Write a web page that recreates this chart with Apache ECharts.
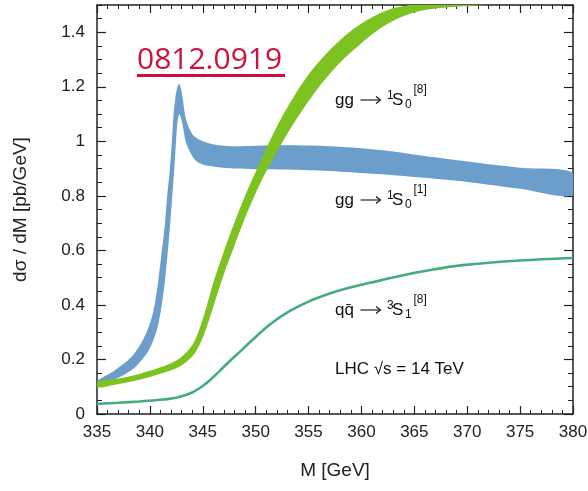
<!DOCTYPE html>
<html>
<head>
<meta charset="utf-8">
<script src="https://cdn.jsdelivr.net/npm/echarts@6/dist/echarts.min.js"></script>
<style>html,body{margin:0;padding:0;background:#fff;}#c{width:588px;height:491px;}</style>
</head>
<body>
<div id="c"></div>
<script>
// ---- data ----
const xTicks = [335, 340, 345, 350, 355, 360, 365, 370, 375, 380];
const yTicks = [0, 0.2, 0.4, 0.6, 0.8, 1, 1.2, 1.4];

// gg -> 1S0[1] band (blue): upper and lower edges [M, dsigma/dM]
const singletUpper = [[335,0.121],[336.6,0.158],[338.2,0.207],[339.1,0.255],[339.7,0.302],[340.2,0.357],[340.5,0.412],[340.8,0.492],[341.1,0.59],[341.4,0.687],[341.6,0.785],[341.85,0.883],[342.05,0.981],[342.2,1.079],[342.4,1.158],[342.6,1.199],[342.75,1.21],[342.9,1.2],[343.1,1.158],[343.3,1.103],[343.5,1.07],[344.05,1.024],[345.05,0.999],[346.3,0.987],[348.2,0.982],[350,0.984],[353,0.986],[356,0.984],[360,0.975],[363,0.963],[366,0.946],[370,0.926],[375,0.903],[380,0.885]];
const singletLower = [[335,0.104],[336.9,0.131],[338.5,0.168],[339.6,0.216],[340.2,0.259],[340.7,0.314],[341.05,0.382],[341.36,0.467],[341.62,0.565],[341.87,0.675],[342.09,0.785],[342.28,0.883],[342.44,0.981],[342.6,1.067],[342.78,1.1],[342.95,1.085],[343.16,1.045],[343.38,1.0],[343.63,0.975],[344.26,0.932],[345.05,0.914],[346.3,0.906],[348,0.9],[350,0.898],[353,0.897],[356,0.893],[360,0.884],[363,0.876],[366,0.866],[370,0.851],[375,0.826],[380,0.801]];

// gg -> 1S0[8] band (green)
const octetUpper = [[335,0.118],[337,0.13],[339,0.147],[341,0.171],[342.5,0.196],[343.5,0.228],[344.2,0.266],[344.8,0.325],[345.4,0.4],[346,0.482],[346.8,0.575],[347.6,0.662],[348.5,0.753],[349.5,0.845],[350.5,0.93],[351.5,1.015],[353,1.125],[355,1.245],[357,1.335],[359,1.405],[361,1.455],[363,1.488],[365.5,1.505],[368,1.52],[372,1.54],[376,1.555],[380,1.565]];
const octetLower = [[335,0.097],[337,0.11],[339,0.126],[341,0.148],[342.5,0.168],[343.5,0.193],[344.3,0.226],[345,0.28],[345.7,0.358],[346.4,0.443],[347.2,0.535],[348,0.618],[349,0.72],[350,0.81],[351,0.89],[352.5,0.995],[354,1.09],[356,1.2],[358,1.29],[360,1.36],[362,1.42],[364,1.46],[366,1.482],[370,1.496],[374,1.503],[377,1.51],[380,1.515]];

// q qbar -> 3S1[8] (teal line)
const qqbarLine = [[335,0.037],[337,0.041],[339,0.046],[341,0.052],[342.2,0.058],[343.1,0.066],[344,0.079],[344.8,0.097],[345.7,0.125],[346.6,0.158],[347.6,0.196],[348.5,0.228],[349.5,0.265],[351.4,0.33],[353.2,0.377],[355.1,0.414],[357,0.442],[358.9,0.464],[360.8,0.481],[363.5,0.505],[366.5,0.528],[369.6,0.546],[375,0.563],[380,0.572]];

// ---- styles ----
const FONT = '"Liberation Sans", Arial, sans-serif';
const AX = '#222';
const BLUE = '#6b9ecb';
const GREEN = '#7cc220';
const TEAL = '#45ad7d';

const chart = echarts.init(document.getElementById('c'), null, {renderer: 'canvas'});

function bandSeries(upper, lower, color) {
  return {
    type: 'custom',
    coordinateSystem: 'cartesian2d',
    xAxisIndex: 0, yAxisIndex: 0,
    clip: true,
    silent: true,
    data: [[upper[0][0], upper[0][1]]],
    renderItem: function (params, api) {
      const pts = upper.map(p => api.coord(p)).concat(lower.slice().reverse().map(p => api.coord(p)));
      return {type: 'polygon', shape: {points: pts, smooth: 0.3}, style: {fill: color, stroke: null}};
    }
  };
}

function xAx(pos) {
  return {
    type: 'value', position: pos, min: 335, max: 380, interval: 5,
    axisLine: {show: true, onZero: false, lineStyle: {color: AX, width: 1.5}},
    axisTick: {show: true, inside: true, length: 8, lineStyle: {color: AX, width: 1.2}},
    minorTick: {show: true, splitNumber: 5, length: 4, lineStyle: {color: AX, width: 1}},
    splitLine: {show: false}, minorSplitLine: {show: false},
    axisLabel: pos === 'bottom' ? {show: true, color: AX, fontSize: 17, fontFamily: FONT, margin: 10,
      formatter: v => xTicks.indexOf(v) >= 0 ? String(v) : ''} : {show: false},
    name: pos === 'bottom' ? 'M [GeV]' : '',
    nameLocation: 'middle', nameGap: 47,
    nameTextStyle: {color: AX, fontSize: 19, fontFamily: FONT}
  };
}
function yAx(pos, major) {
  return {
    type: 'value', position: pos, min: 0, max: 1.5, interval: major ? 0.2 : 0.05,
    axisLine: {show: major, onZero: false, lineStyle: {color: AX, width: 1.5}},
    axisTick: {show: true, inside: true, length: major ? 9 : 5, lineStyle: {color: AX, width: major ? 1.2 : 1}},
    splitLine: {show: false},
    axisLabel: (pos === 'left' && major) ? {show: true, color: AX, fontSize: 17, fontFamily: FONT, margin: 12,
      showMaxLabel: false,
      formatter: v => { const i = yTicks.findIndex(t => Math.abs(t - v) < 1e-9); return i >= 0 ? String(yTicks[i]) : ''; }} : {show: false},
    name: (pos === 'left' && major) ? 'd\u03c3 / dM [pb/GeV]' : '',
    nameLocation: 'middle', nameGap: 67,
    nameTextStyle: {color: AX, fontSize: 19, fontFamily: FONT}
  };
}

function label(left, cy, parts, extra) {
  return {
    type: 'group', x: left, y: cy, z: 50,
    children: parts.map(p => ({
      type: 'text', x: p[1], y: p[2],
      style: {text: p[0], fill: '#111', font: p[3] + 'px ' + FONT, verticalAlign: 'middle', align: 'left'}
    })).concat(extra || [])
  };
}
function arrow(x0, x1, dy) {
  const st = {stroke: '#111', lineWidth: 1.1, fill: null};
  return [
    {type: 'line', shape: {x1: x0, y1: dy, x2: x1 - 0.5, y2: dy}, style: st},
    {type: 'polyline', shape: {points: [[x1 - 4.5, dy - 3.5], [x1, dy], [x1 - 4.5, dy + 3.5]]}, style: st}
  ];
}
function stateLabel(left, cy, proc, spin, sub, colour) {
  return label(left, cy, [
    [proc, 0, 0, 17], [spin, 52, -4, 12], ['S', 57, 0, 17], [sub, 70, 5, 12], [colour, 78.5, -10, 12]
  ], arrow(25.5, 45.5, 0));
}

const option = {
  animation: false,
  backgroundColor: '#fff',
  grid: {left: 97, right: 15, top: 5, bottom: 77, containLabel: false, outerBoundsMode: 'none'},
  xAxis: [xAx('bottom'), xAx('top')],
  yAxis: [yAx('left', true), yAx('left', false), yAx('right', true), yAx('right', false)],
  series: [
    bandSeries(singletUpper, singletLower, BLUE),
    bandSeries(octetUpper, octetLower, GREEN),
    {
      type: 'line', xAxisIndex: 0, yAxisIndex: 0, data: qqbarLine, smooth: 0.3, showSymbol: false, clip: true,
      lineStyle: {color: TEAL, width: 2.6}, silent: true
    }
  ],
  graphic: [
    {type: 'text', x: 137, y: 60, z: 100, style: {text: '0812.0919', fill: '#d0103a', font: '30px "Open Sans", sans-serif', verticalAlign: 'middle', align: 'left'}},
    {type: 'rect', z: 100, shape: {x: 137, y: 74, width: 148, height: 3}, style: {fill: '#d0103a'}},
    stateLabel(335, 100, 'gg', '1', '0', '[8]'),
    stateLabel(335, 200, 'gg', '1', '0', '[1]'),
    stateLabel(335, 310, 'qq\u0304', '3', '1', '[8]'),
    label(335, 369, [['LHC \u221as = 14 TeV', 0, 0, 17]])
  ]
};
chart.setOption(option);
</script>
</body>
</html>
